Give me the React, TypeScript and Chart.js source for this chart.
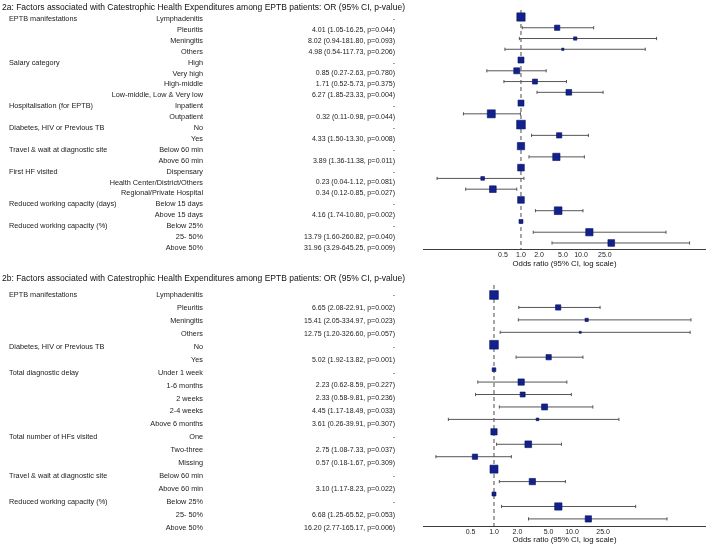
import React, { useEffect, useRef } from "react";
import { Chart, registerables } from "chart.js";

Chart.register(...registerables);

const FONT = "'Liberation Sans', Arial, Helvetica, sans-serif";

// ---------- 2a ----------
const titleA =
  "2a: Factors associated with Catestrophic Health Expenditures among EPTB patients: OR (95% CI, p-value)";
const variablesA = [
  "EPTB manifestations", "", "", "",
  "Salary category", "", "", "",
  "Hospitalisation (for EPTB)", "",
  "Diabetes, HIV or Previous TB", "",
  "Travel & wait at diagnostic site", "",
  "First HF visited", "", "",
  "Reduced working capacity (days)", "",
  "Reduced working capacity (%)", "", "",
];
const levelsA = [
  "Lymphadenitis", "Pleuritis", "Meningitis", "Others",
  "High", "Very high", "High-middle", "Low-middle, Low & Very low",
  "Inpatient", "Outpatient",
  "No", "Yes",
  "Below 60 min", "Above 60 min",
  "Dispensary", "Health Center/District/Others", "Regional/Private Hospital",
  "Below 15 days", "Above 15 days",
  "Below 25%", "25- 50%", "Above 50%",
];
const orA = [null, 4.01, 8.02, 4.98, null, 0.85, 1.71, 6.27, null, 0.32, null, 4.33, null, 3.89, null, 0.23, 0.34, null, 4.16, null, 13.79, 31.96];
const loA = [null, 1.05, 0.94, 0.54, null, 0.27, 0.52, 1.85, null, 0.11, null, 1.5, null, 1.36, null, 0.04, 0.12, null, 1.74, null, 1.6, 3.29];
const hiA = [null, 16.25, 181.8, 117.73, null, 2.63, 5.73, 23.33, null, 0.98, null, 13.3, null, 11.38, null, 1.12, 0.85, null, 10.8, null, 260.82, 645.25];
const pA = [null, 0.044, 0.093, 0.206, null, 0.78, 0.375, 0.004, null, 0.044, null, 0.008, null, 0.011, null, 0.081, 0.027, null, 0.002, null, 0.04, 0.009];
// relative weight of each estimate (box side)
const weightA = [8.3, 5.3, 3.3, 2.3, 6, 6, 5, 5.7, 6, 8, 8.7, 5.3, 7.3, 7.3, 6.7, 3.7, 6.7, 6.7, 7.7, 4, 7.3, 6.7];

// ---------- 2b ----------
const titleB =
  "2b: Factors associated with Catestrophic Health Expenditures among EPTB patients: OR (95% CI, p-value)";
const variablesB = [
  "EPTB manifestations", "", "", "",
  "Diabetes, HIV or Previous TB", "",
  "Total diagnostic delay", "", "", "", "",
  "Total number of HFs visited", "", "",
  "Travel & wait at diagnostic site", "",
  "Reduced working capacity (%)", "", "",
];
const levelsB = [
  "Lymphadenitis", "Pleuritis", "Meningitis", "Others",
  "No", "Yes",
  "Under 1 week", "1-6 months", "2 weeks", "2-4 weeks", "Above 6 months",
  "One", "Two-three", "Missing",
  "Below 60 min", "Above 60 min",
  "Below 25%", "25- 50%", "Above 50%",
];
const orB = [null, 6.65, 15.41, 12.75, null, 5.02, null, 2.23, 2.33, 4.45, 3.61, null, 2.75, 0.57, null, 3.1, null, 6.68, 16.2];
const loB = [null, 2.08, 2.05, 1.2, null, 1.92, null, 0.62, 0.58, 1.17, 0.26, null, 1.08, 0.18, null, 1.17, null, 1.25, 2.77];
const hiB = [null, 22.91, 334.97, 326.6, null, 13.82, null, 8.59, 9.81, 18.49, 39.91, null, 7.33, 1.67, null, 8.23, null, 65.52, 165.17];
const pB = [null, 0.002, 0.023, 0.057, null, 0.001, null, 0.227, 0.236, 0.033, 0.307, null, 0.037, 0.309, null, 0.022, null, 0.053, 0.006];
const weightB = [8.7, 5.3, 3.3, 2, 8.7, 5.3, 3.7, 6.3, 5, 6, 2.7, 6.3, 6.7, 5.3, 8, 6.3, 4, 7.3, 6.3];

const tickValues = [0.5, 1, 2, 5, 10, 25];
const axisTitle = "Odds ratio (95% CI, log scale)";

type Panel = {
  title: string;
  variables: string[];
  levels: string[];
  or: (number | null)[];
  lo: (number | null)[];
  hi: (number | null)[];
  p: (number | null)[];
  weight: number[];
  xMin: number;
  xMax: number;
  yMin: number;
  yMax: number;
  padTop: number;
  axisHeight: number;
  axisTitlePad: number;
  titleY: number;
  textShift: number;
  textStretch: number;
};

const panelA: Panel = {
  title: titleA, variables: variablesA, levels: levelsA,
  or: orA, lo: loA, hi: hiA, p: pA, weight: weightA,
  xMin: 0.0233, xMax: 1211, yMin: -0.65, yMax: 21.56, padTop: 10,
  axisHeight: 23, axisTitlePad: 3, titleY: 8,
  textShift: 2, textStretch: 1.013,
};
const panelB: Panel = {
  title: titleB, variables: variablesB, levels: levelsB,
  or: orB, lo: loB, hi: hiB, p: pB, weight: weightB,
  xMin: 0.123, xMax: 522, yMin: -0.804, yMax: 18.57, padTop: 15,
  axisHeight: 21, axisTitlePad: 2, titleY: 9,
  textShift: 0, textStretch: 1.04,
};

function orText(p: Panel, i: number): string {
  const v = p.or[i];
  if (v == null) return "-";
  return `${v.toFixed(2)} (${p.lo[i]!.toFixed(2)}-${p.hi[i]!.toFixed(2)}, p=${p.p[i]!.toFixed(3)})`;
}

function makeForestPlugin(p: Panel) {
  return {
    id: "forest",
    beforeDatasetsDraw(chart: any) {
      const { ctx, chartArea, scales } = chart;
      const xs = scales.x;
      const ys = scales.y;
      ctx.save();
      // reference line at OR = 1
      const x1 = xs.getPixelForValue(1);
      ctx.strokeStyle = "#4d4d4d";
      ctx.lineWidth = 1;
      ctx.setLineDash([4, 3]);
      ctx.beginPath();
      ctx.moveTo(x1, chartArea.top);
      ctx.lineTo(x1, chartArea.bottom);
      ctx.stroke();
      ctx.setLineDash([]);
      // confidence intervals
      ctx.strokeStyle = "#555555";
      for (let i = 0; i < p.or.length; i++) {
        const lo = p.lo[i];
        const hi = p.hi[i];
        if (lo == null || hi == null) continue;
        const y = ys.getPixelForValue(i);
        const a = xs.getPixelForValue(lo);
        const b = xs.getPixelForValue(hi);
        ctx.beginPath();
        ctx.moveTo(a, y);
        ctx.lineTo(b, y);
        ctx.moveTo(a, y - 1.6);
        ctx.lineTo(a, y + 1.6);
        ctx.moveTo(b, y - 1.6);
        ctx.lineTo(b, y + 1.6);
        ctx.stroke();
      }
      ctx.restore();
    },
    afterDraw(chart: any) {
      const { ctx, scales } = chart;
      const ys = scales.y;
      const y0 = ys.getPixelForValue(0);
      const step = (ys.getPixelForValue(1) - y0) * p.textStretch;
      ctx.save();
      ctx.textBaseline = "middle";
      ctx.fillStyle = "#111";
      ctx.font = `8.5px ${FONT}`;
      ctx.textAlign = "left";
      ctx.fillText(p.title, 2, p.titleY);
      ctx.fillStyle = "#222";
      for (let i = 0; i < p.levels.length; i++) {
        const y = y0 + p.textShift + i * step;
        ctx.font = `7.3px ${FONT}`;
        ctx.textAlign = "left";
        if (p.variables[i]) ctx.fillText(p.variables[i], 9, y);
        ctx.textAlign = "right";
        ctx.fillText(p.levels[i], 203, y);
        ctx.font = `7px ${FONT}`;
        ctx.fillText(orText(p, i), 395, y);
      }
      ctx.restore();
    },
  };
}

function Forest({ panel, top, height }: { panel: Panel; top: number; height: number }) {
  const ref = useRef<HTMLCanvasElement | null>(null);
  useEffect(() => {
    if (!ref.current) return;
    const points = panel.or.map((v, i) => ({ x: v == null ? 1 : v, y: i }));
    const chart = new Chart(ref.current, {
      type: "scatter",
      data: {
        datasets: [
          {
            data: points,
            pointStyle: "rect",
            pointRadius: panel.weight.map((w) => w / Math.SQRT2),
            pointHoverRadius: panel.weight.map((w) => w / Math.SQRT2),
            backgroundColor: "#12228c",
            borderColor: "#0a1360",
            borderWidth: 0.6,
          },
        ],
      },
      options: {
        animation: false,
        responsive: false,
        maintainAspectRatio: false,
        events: [],
        layout: {
          autoPadding: false,
          padding: { left: 423, right: 0, top: panel.padTop, bottom: 0 },
        },
        plugins: {
          legend: { display: false },
          tooltip: { enabled: false },
          title: { display: false },
        },
        scales: {
          x: {
            type: "logarithmic",
            min: panel.xMin,
            max: panel.xMax,
            grid: { display: false, drawTicks: false },
            border: { display: true, color: "#3a3a3a", width: 1 },
            afterBuildTicks: (s: any) => {
              s.ticks = tickValues.map((v) => ({ value: v }));
            },
            afterFit: (s: any) => {
              s.height = panel.axisHeight;
              s.paddingLeft = 0;
              s.paddingRight = 0;
            },
            ticks: {
              autoSkip: false,
              maxRotation: 0,
              padding: 2,
              color: "#222",
              font: { family: FONT, size: 7 },
              callback: (v: any) => Number(v).toFixed(1),
            },
            title: {
              display: true,
              text: axisTitle,
              color: "#111",
              font: { family: FONT, size: 7.8 },
              padding: { top: 0, bottom: panel.axisTitlePad },
            },
          },
          y: {
            type: "linear",
            reverse: true,
            min: panel.yMin,
            max: panel.yMax,
            display: false,
          },
        },
      },
      plugins: [makeForestPlugin(panel)],
    } as any);
    return () => chart.destroy();
  }, [panel]);
  return (
    <canvas
      ref={ref}
      width={706}
      height={height}
      style={{ position: "absolute", left: 0, top, width: 706, height }}
    />
  );
}

export default function App() {
  return (
    <div style={{ position: "absolute", left: 0, top: 0, width: 706, height: 547, background: "#fff" }}>
      <Forest panel={panelA} top={0} height={272} />
      <Forest panel={panelB} top={270} height={277} />
    </div>
  );
}
